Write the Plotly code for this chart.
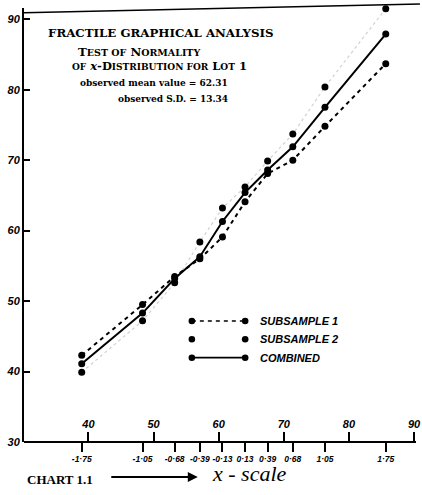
import plotly.graph_objects as go

# ---- data ----
MEAN = 62.31
SD = 13.34
z_values = [-1.75, -1.05, -0.68, -0.39, -0.13, 0.13, 0.39, 0.68, 1.05, 1.75]
z_labels = ["-1·75", "-1·05", "-0·68", "-0·39", "-0·13", "0·13", "0·39", "0·68", "1·05", "1·75"]
subsample1 = [42.3, 49.5, 53.5, 56.0, 59.1, 64.1, 68.1, 70.0, 74.8, 83.7]
subsample2 = [39.9, 47.2, 52.6, 58.4, 63.2, 66.2, 69.9, 73.7, 80.4, 91.5]
combined = [41.1, 48.3, 53.2, 56.3, 61.3, 65.4, 68.6, 71.9, 77.5, 87.9]
x_ticks = [40, 50, 60, 70, 80, 90]
y_ticks = [30, 40, 50, 60, 70, 80, 90]
legend_names = ["SUBSAMPLE 1", "SUBSAMPLE 2", "COMBINED"]

x_pos = [MEAN + z * SD for z in z_values]

W, H = 422, 495
ML, MR, MT, MB = 24, 1, 8, 53
PW, PH = W - ML - MR, H - MT - MB
X_RANGE = [30.1, 90.3]


def px(x):
    return (x - ML) / PW


def py(y):
    return (H - MB - y) / PH


fig = go.Figure()
fig.add_trace(go.Scatter(x=x_pos, y=subsample2, mode="lines+markers",
                         line=dict(color="#d2d2d2", width=1.2, dash="dot"),
                         marker=dict(color="black", size=7),
                         cliponaxis=False, showlegend=False))
fig.add_trace(go.Scatter(x=x_pos, y=subsample1, mode="lines+markers",
                         line=dict(color="black", width=2, dash="4px,4px"),
                         marker=dict(color="black", size=7),
                         cliponaxis=False, showlegend=False))
fig.add_trace(go.Scatter(x=x_pos, y=combined, mode="lines+markers",
                         line=dict(color="black", width=2),
                         marker=dict(color="black", size=7),
                         cliponaxis=False, showlegend=False))
# invisible trace to activate the second x axis
fig.add_trace(go.Scatter(x=x_pos, y=combined, xaxis="x2", mode="markers",
                         marker=dict(opacity=0), showlegend=False, hoverinfo="skip"))

tickfont = dict(family="Liberation Sans", size=11, color="black", weight="bold", style="italic")

fig.update_layout(
    width=W, height=H,
    margin=dict(l=ML, r=MR, t=MT, b=MB),
    paper_bgcolor="white", plot_bgcolor="white",
    xaxis=dict(range=X_RANGE, tickvals=x_ticks, side="top", anchor="free", position=0,
               ticks="outside", ticklen=9, tickwidth=1.6, tickangle=0, ticklabeloverflow="allow",
               tickcolor="black", tickfont=tickfont,
               showline=True, linecolor="black", linewidth=2, showgrid=False, zeroline=False),
    xaxis2=dict(range=X_RANGE, overlaying="x", side="bottom", anchor="y",
                tickvals=x_pos, ticktext=z_labels, ticks="outside", ticklen=9, tickwidth=1.6,
                tickangle=0, tickcolor="black", ticklabeloverflow="allow",
                tickfont=dict(family="Liberation Sans", size=8.5, color="black",
                              weight="bold", style="italic"),
                showline=False, showgrid=False, zeroline=False),
    yaxis=dict(range=[30, 91.6], tickvals=y_ticks, ticks="inside", ticklen=6, tickwidth=1.6,
               tickcolor="black", tickfont=tickfont, anchor="x",
               showline=True, linecolor="black", linewidth=2, showgrid=False, zeroline=False),
)

shapes = []
# top border of the chart frame
shapes.append(dict(type="line", xref="paper", yref="paper", x0=0, y0=py(12.7), x1=1.01, y1=py(4),
                   line=dict(color="black", width=1.5)))

# legend
leg_y = [321, 339.3, 357.7]
x_l, x_r = px(194), px(248)
styles = [dict(color="black", width=1.5, dash="4px,4px"), None, dict(color="black", width=1.8)]
for i, name in enumerate(legend_names):
    yy = py(leg_y[i])
    if styles[i] is not None:
        shapes.append(dict(type="line", xref="paper", yref="paper", x0=x_l, x1=x_r, y0=yy, y1=yy,
                           line=styles[i]))
    for xx in (x_l, x_r):
        shapes.append(dict(type="circle", xref="paper", yref="paper", xsizemode="pixel",
                           ysizemode="pixel", xanchor=xx, yanchor=yy, x0=-3.3, x1=3.3, y0=-3.3,
                           y1=3.3, fillcolor="black", line=dict(color="black", width=0)))
fig.update_layout(shapes=shapes)

title_font = "DejaVu Serif"
serif_b = dict(family=title_font, color="black", weight="bold")
ann = []
ann.append(dict(text="FRACTILE GRAPHICAL ANALYSIS", x=px(163), y=py(33),
                font=dict(size=11.8, **serif_b)))
sc = '<span style="font-size:9.5px">'
ann.append(dict(text=f"T{sc}EST OF</span> N{sc}ORMALITY</span>", x=px(140), y=py(52),
                font=dict(size=11.8, **serif_b)))
sc2 = '<span style="font-size:9px">'
ann.append(dict(text=f"{sc2}OF</span> <i>x</i>-D{sc2}ISTRIBUTION FOR</span> L{sc2}OT</span> 1",
                x=px(161), y=py(66), font=dict(size=11.5, **serif_b)))
ann.append(dict(text=f"observed mean value = {MEAN}", x=px(233), y=py(83), xanchor="right",
                font=dict(size=9, **serif_b)))
ann.append(dict(text=f"observed S.D. = {SD}", x=px(233), y=py(99), xanchor="right",
                font=dict(size=9, **serif_b)))
for i, name in enumerate(legend_names):
    ann.append(dict(text=name, x=px(261), y=py(leg_y[i]), xanchor="left",
                    font=dict(family="Liberation Sans", size=11, color="black",
                              weight="bold", style="italic")))
ann.append(dict(text="CHART 1.1", x=px(60), y=py(479),
                font=dict(family="Liberation Serif", size=13, color="black", weight="bold")))
ann.append(dict(text="", x=px(200), y=py(477), ax=-88, ay=0, showarrow=True, arrowhead=2,
                arrowsize=1, arrowwidth=2, arrowcolor="black"))
ann.append(dict(text="<i>x - scale</i>", x=px(252), y=py(473),
                font=dict(family="Liberation Serif", size=22, color="black")))
for a in ann:
    a.setdefault("xref", "paper")
    a.setdefault("yref", "paper")
    a.setdefault("showarrow", False)
    a.setdefault("xanchor", "center")
    a.setdefault("yanchor", "middle")
fig.update_layout(annotations=ann)

fig.write_html("out.html", config={"displayModeBar": False},
               post_script="document.body.style.margin='0px';document.body.style.overflow='hidden';")
